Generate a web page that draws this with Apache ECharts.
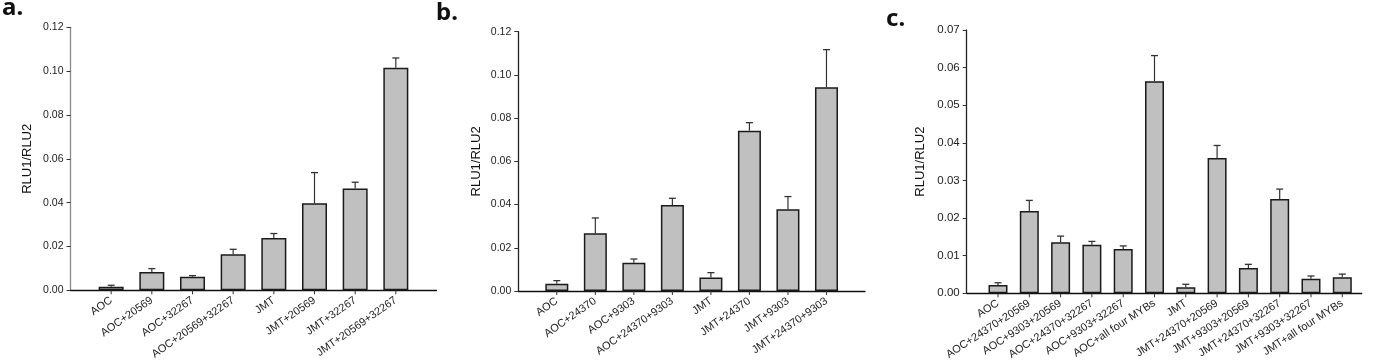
<!DOCTYPE html>
<html>
<head>
<meta charset="utf-8">
<script src="https://cdn.jsdelivr.net/npm/echarts@6/dist/echarts.min.js"></script>
<style>
html,body{margin:0;padding:0;background:#fff;}
#chart{width:1375px;height:362px;}
</style>
</head>
<body>
<div id="chart"></div>
<script>
// Panel a
const catsA = ['AOC','AOC+20569','AOC+32267','AOC+20569+32267','JMT','JMT+20569','JMT+32267','JMT+20569+32267'];
const meanA = [0.0016,0.0084,0.0062,0.0164,0.0239,0.0397,0.0464,0.1016];
const errA  = [0.0007,0.0015,0.0005,0.0023,0.0020,0.0140,0.0029,0.0044];
// Panel b
const catsB = ['AOC','AOC+24370','AOC+9303','AOC+24370+9303','JMT','JMT+24370','JMT+9303','JMT+24370+9303'];
const meanB = [0.0034,0.0267,0.0131,0.0398,0.0062,0.0742,0.0378,0.0943];
const errB  = [0.0014,0.0071,0.0017,0.0031,0.0023,0.0037,0.0059,0.0174];
// Panel c
const catsC = ['AOC','AOC+24370+20569','AOC+9303+20569','AOC+24370+32267','AOC+9303+32267','AOC+all four MYBs','JMT','JMT+24370+20569','JMT+9303+20569','JMT+24370+32267','JMT+9303+32267','JMT+all four MYBs'];
const meanC = [0.0022,0.0219,0.0136,0.0129,0.0118,0.0564,0.0016,0.0360,0.0067,0.0251,0.0039,0.0043];
const errC  = [0.0006,0.0028,0.0016,0.0009,0.0008,0.0068,0.0008,0.0033,0.0010,0.0026,0.0007,0.0008];
// Y tick settings
const yMaxA = 0.12, yMaxB = 0.12, yMaxC = 0.07;
const yStepA = 0.02, yStepB = 0.02, yStepC = 0.01;

const panels = [
  {cats: catsA, mean: meanA, err: errA, yMax: yMaxA, yStep: yStepA,
   grid: {left: 70.5, top: 27.3, width: 366, height: 263}, xMax: 9, barW: 25,
   yColor: '#8a8a8a', nameGap: 37, fs: 11, rot: 35, label: 'a.', lx: 2, ly: -3.5},
  {cats: catsB, mean: meanB, err: errB, yMax: yMaxB, yStep: yStepB,
   grid: {left: 518.3, top: 31.7, width: 346.7, height: 259.3}, xMax: 9, barW: 23,
   yColor: '#222', nameGap: 35, fs: 11, rot: 35, label: 'b.', lx: 436, ly: 1},
  {cats: catsC, mean: meanC, err: errC, yMax: yMaxC, yStep: yStepC,
   grid: {left: 966.7, top: 30, width: 395, height: 263.3}, xMax: 12.62, barW: 19,
   yColor: '#222', nameGap: 40, fs: 11, rot: 33, label: 'c.', lx: 886, ly: 7}
];

const grid = [], xAxis = [], yAxis = [], series = [], graphic = [];
panels.forEach((p, i) => {
  grid.push(Object.assign({containLabel: false, outerBoundsMode: 'none'}, p.grid));
  xAxis.push({
    type: 'value', gridIndex: i, min: 0, max: p.xMax, interval: 1,
    splitLine: {show: false},
    axisLine: {show: true, lineStyle: {color: '#111', width: 1.3}},
    axisTick: {show: false},
    axisLabel: {
      rotate: p.rot, margin: 9, fontSize: p.fs, color: '#222',
      fontFamily: 'Liberation Sans, Arial, sans-serif',
      formatter: (v) => {
        const k = Math.round(v);
        if (Math.abs(v - k) > 1e-6 || k < 1 || k > p.cats.length) return '';
        return p.cats[k - 1];
      }
    }
  });
  yAxis.push({
    type: 'value', gridIndex: i, min: 0, max: p.yMax, interval: p.yStep,
    name: 'RLU1/RLU2', nameLocation: 'middle', nameGap: p.nameGap,
    nameTextStyle: {fontSize: 13, color: '#111', fontFamily: 'Liberation Sans, Arial, sans-serif'},
    splitLine: {show: false},
    axisLine: {show: true, lineStyle: {color: p.yColor, width: 1.3}},
    axisTick: {show: true, length: 4, inside: false, lineStyle: {color: '#333', width: 1}},
    axisLabel: {margin: 7, fontSize: i === 2 ? 11.5 : 10.5, color: '#222',
      fontFamily: 'Liberation Sans, Arial, sans-serif',
      formatter: (v) => v.toFixed(2)}
  });
  const barData = p.mean.map((m, k) => [k + 1, m]);
  series.push({
    type: 'bar', xAxisIndex: i, yAxisIndex: i, data: barData, barWidth: p.barW,
    itemStyle: {color: '#c0c0c0', borderColor: '#1a1a1a', borderWidth: 1.5},
    silent: true, z: 2
  });
  const errData = p.mean.map((m, k) => [k + 1, m, p.err[k]]);
  series.push({
    type: 'custom', xAxisIndex: i, yAxisIndex: i, data: errData, z: 3, silent: true,
    encode: {x: 0, y: 1},
    renderItem: (params, api) => {
      const x = api.value(0), m = api.value(1), e = api.value(2);
      const base = api.coord([x, m]);
      const top = api.coord([x, m + e]);
      const zero = api.coord([x, 0]);
      const cap = 3.5;
      return {
        type: 'group',
        children: [
          {type: 'line', shape: {x1: base[0], y1: base[1], x2: top[0], y2: top[1]},
           style: {stroke: '#333', lineWidth: 1.2}},
          {type: 'line', shape: {x1: top[0] - cap, y1: top[1], x2: top[0] + cap, y2: top[1]},
           style: {stroke: '#333', lineWidth: 1.3}},
          {type: 'line', shape: {x1: zero[0], y1: zero[1], x2: zero[0], y2: zero[1] + 4},
           style: {stroke: '#333', lineWidth: 1}}
        ]
      };
    }
  });
  graphic.push({
    type: 'text', left: p.lx, top: p.ly,
    style: {text: p.label, font: 'bold 24px "Noto Sans", "Open Sans", sans-serif', fill: '#111'}
  });
});

const chart = echarts.init(document.getElementById('chart'), null, {renderer: 'canvas'});
chart.setOption({
  animation: false,
  backgroundColor: '#fff',
  grid, xAxis, yAxis, series, graphic
});
</script>
</body>
</html>
